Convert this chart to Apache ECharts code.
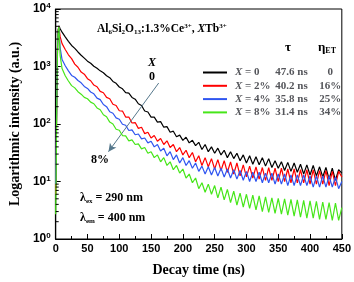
<!DOCTYPE html>
<html><head><meta charset="utf-8">
<script src="https://cdn.jsdelivr.net/npm/echarts@6/dist/echarts.min.js"></script>
<style>html,body{margin:0;padding:0;background:#fff}#c{width:354px;height:282px}</style>
</head><body><div id="c"></div>
<script>
var times = [0,1,2,3,4,5,7,10,15,20,25,30,35,40,45,50,55,60,65,70,75,80,85,90,95,100,105,110,115,120,125,130,135,140,145,150,155,160,165,170,175,180,185,190,195,200,205,210,215,220,225,230,235,240,245,250,255,260,265,270,275,280,285,290,295,300,305,310,315,320,325,330,335,340,345,350,355,360,365,370,375,380,385,390,395,400,405,410,415,420,425,430,435,440,445,450];
var x0 = [8,60,700,2600,4400,5100,4550,3950,3280,2740,2320,2070,1790,1570,1400,1240,1140,1010,930,840,780,690,640,550,510,440,410,350,345,290,270,225,210,168,162,132,132,108,110,88,90,72,75,60,64,52,59,47,52,42,48,36,44,33,40,31,38,29,35,26,33,25,31,23,29,21,28,20,27,19.5,26,18.5,25,17.5,23,17,22,15.5,21.5,15,21,14.5,20,13.5,19.5,13,19,12.5,18,12,17.5,11,17,10.5,16,14];
var x2 = [6,50,600,2400,4300,4900,3300,2500,1980,1600,1370,1100,970,800,735,615,565,475,445,370,350,290,275,220,210,170,168,132,132,104,106,84,88,68,72,57,63,50,56,44,51,39,44,33,39,29,35,26,32,22,28,19,26,18,25,16.5,24,15.5,23,14.5,22,13.5,21,12.5,19.5,12,18.5,11.5,18,11,17.5,10.5,17.5,10.5,17,10,17,10,16.5,9.5,16.5,9.5,16,9.5,16,9,16,9,15.5,9,15.5,8.5,15,8.5,15,12];
var x4 = [9,70,650,2400,4200,4800,2100,1320,1030,840,700,650,570,520,450,415,360,335,282,265,218,200,163,154,128,121,99,95,77,79,65,67,55,57,47,50,40,44,34,38,28,33,24,29,21,26,19,23,17,21,15,18.5,13.5,18,13,17.5,12.5,17,12,16.5,11.5,16,11,15.5,10.5,15,10,14.5,10,14.5,9.5,14,9.5,14,9,13.5,9,13.5,8.5,13,8.5,13,8.5,13,8.5,12.5,8,12.5,8,12.5,8,12.5,8,12,7.5,10];
var x8 = [2.7,30,500,2300,4200,4900,1550,920,690,560,465,425,365,330,290,275,240,225,190,177,145,134,108,100,81,78,63,62,51,53,44,45,37,39,31,33,26,29,22,26,19,22,16,19,14,16.5,11.5,13.5,9.5,11.5,7.5,9.5,6.5,9,6,8.5,5.2,8,4.8,7.3,4.3,6.8,3.9,6.3,3.6,6,3.4,5.8,3.2,5.6,3,5.4,2.9,5.2,2.8,5.1,2.7,5,2.6,4.9,2.5,4.8,2.4,4.7,2.3,4.6,2.3,4.5,2.2,4.4,2.2,4.3,2.1,4.2,2.1,3.5];
var seriesNames = ['X = 0','X = 2%','X = 4%','X = 8%'];
var tauLabels = ['47.6 ns','40.2 ns','35.8 ns','31.4 ns'];
var etaLabels = ['0','16%','25%','34%'];
var colors = ['#000000','#ff0000','#2f55f0','#46e619'];
var xTicks = [0,50,100,150,200,250,300,350,400,450];
var arrowFrom = [162, 516], arrowTo = [83, 33];

var serif = 'Liberation Serif';
var sans = 'Liberation Sans';
var all = [x0,x2,x4,x8];
function pairs(v){ return times.map(function(t,i){return [t,v[i]];}); }
var minorVals = [];
for (var k=0;k<4;k++){ for (var m=2;m<10;m++){ minorVals.push([0, m*Math.pow(10,k)]); } }

var series = all.map(function(v,i){
  return {name: seriesNames[i], type:'line', data:pairs(v), showSymbol:false, symbol:'none',
    lineStyle:{color:colors[i], width:1.2}, itemStyle:{color:colors[i]}, animation:false, z:2+i};
});
series[3].markLine = {silent:true, symbol:['none','arrow'], symbolSize:[6,8], animation:false,
  lineStyle:{color:'#56788c', width:1, type:'solid'}, label:{show:false},
  data:[[{coord:arrowFrom},{coord:arrowTo}]]};
series.push({type:'custom', data:minorVals, animation:false, silent:true, z:10,
  renderItem:function(p, api){
    var pt = api.coord([0, api.value(1)]);
    return {type:'line', shape:{x1:pt[0], y1:pt[1], x2:pt[0]+3, y2:pt[1]}, style:{stroke:'#000', lineWidth:1}};
  }});

var legendRich = {
  x:{fontFamily:serif, fontWeight:'bold', fontStyle:'italic', fontSize:11, padding:[0,0,0,3]},
  a:{fontFamily:serif, fontWeight:'bold', fontSize:11, width:33},
  t:{fontFamily:serif, fontWeight:'bold', fontSize:11, width:42},
  e:{fontFamily:serif, fontWeight:'bold', fontSize:11, width:26, align:'center'}
};

var option = {
  backgroundColor:'#fff',
  animation:false,
  grid:{left:50, right:11, top:9, bottom:43, show:true, borderColor:'#000', borderWidth:1},
  legend:{left:198, top:61, orient:'vertical', icon:'rect', itemWidth:24, itemHeight:2, itemGap:0.3,
    data:seriesNames,
    formatter:function(n){ var i = seriesNames.indexOf(n);
      return '{x|X}{a|' + n.slice(1) + '}{t|' + tauLabels[i] + '}{e|' + etaLabels[i] + '}'; },
    textStyle:{lineHeight:13, rich:legendRich}},
  xAxis:{type:'value', min:0, max:450, interval:50,
    name:'Decay time (ns)', nameLocation:'middle', nameGap:24,
    nameTextStyle:{fontFamily:serif, fontWeight:'bold', fontSize:14, color:'#000'},
    axisLine:{lineStyle:{color:'#000', width:1.2}},
    axisTick:{inside:true, length:5, lineStyle:{color:'#000'}},
    minorTick:{show:true, splitNumber:2, length:3, lineStyle:{color:'#000'}},
    splitLine:{show:false},
    axisLabel:{margin:4, fontFamily:sans, fontWeight:'bold', fontSize:11, color:'#000'}},
  yAxis:{type:'log', logBase:10, min:1, max:10000,
    name:'Logarithmic intensity (a.u.)', nameLocation:'middle', nameGap:33,
    nameTextStyle:{fontFamily:serif, fontWeight:'bold', fontSize:14, color:'#000'},
    axisLine:{show:true, lineStyle:{color:'#000', width:1.2}},
    axisTick:{inside:true, length:5, lineStyle:{color:'#000'}},
    splitLine:{show:false},
    axisLabel:{margin:5, color:'#000',
      formatter:function(v){ return '{b|10}{s|' + Math.round(Math.log10(v)) + '}'; },
      rich:{b:{fontFamily:sans, fontWeight:'bold', fontSize:12},
            s:{fontFamily:sans, fontWeight:'bold', fontSize:8, verticalAlign:'top', padding:[0,0,6,0]}}}},
  graphic:[
    {type:'text', left:97, top:23, z:20, style:{
      text:'{n|Al}{sb|6}{n|Si}{sb|2}{n|O}{sb|13}{n|:1.3%Ce}{sp|3+}{n|, }{i|X}{n|Tb}{sp|3+}',
      rich:{n:{fontFamily:serif, fontWeight:'bold', fontSize:11.5, fill:'#000'},
            i:{fontFamily:serif, fontWeight:'bold', fontStyle:'italic', fontSize:11.5, fill:'#000'},
            sb:{fontFamily:serif, fontWeight:'bold', fontSize:7, fill:'#000', padding:[6,0,0,0]},
            sp:{fontFamily:serif, fontWeight:'bold', fontSize:7, fill:'#000', padding:[0,0,5,0]}}}},
    {type:'text', x:288, y:48, z:20, style:{text:'τ', fontFamily:serif, fontWeight:'bold', fontSize:13, fill:'#000', align:'center', verticalAlign:'middle'}},
    {type:'text', x:327, y:48, z:20, style:{text:'{n|η}{sb|ET}', align:'center', verticalAlign:'middle',
      rich:{n:{fontFamily:serif, fontWeight:'bold', fontSize:13, fill:'#000'},
            sb:{fontFamily:serif, fontWeight:'bold', fontSize:8, fill:'#000', padding:[6,0,0,0]}}}},
    {type:'text', x:152, y:63, z:20, style:{text:'X', fontFamily:serif, fontWeight:'bold', fontStyle:'italic', fontSize:12, fill:'#000', align:'center', verticalAlign:'middle'}},
    {type:'text', x:152, y:77, z:20, style:{text:'0', fontFamily:serif, fontWeight:'bold', fontSize:12, fill:'#000', align:'center', verticalAlign:'middle'}},
    {type:'text', x:100, y:160, z:20, style:{text:'8%', fontFamily:serif, fontWeight:'bold', fontSize:12, fill:'#000', align:'center', verticalAlign:'middle'}},
    {type:'text', left:80, top:192, z:20, style:{text:'{n|λ}{sb|ex}{n| = 290 nm}',
      rich:{n:{fontFamily:serif, fontWeight:'bold', fontSize:12, fill:'#000'},
            sb:{fontFamily:serif, fontWeight:'bold', fontSize:7, fill:'#000', padding:[6,0,0,0]}}}},
    {type:'text', left:80, top:212, z:20, style:{text:'{n|λ}{sb|em}{n| = 400 nm}',
      rich:{n:{fontFamily:serif, fontWeight:'bold', fontSize:12, fill:'#000'},
            sb:{fontFamily:serif, fontWeight:'bold', fontSize:7, fill:'#000', padding:[6,0,0,0]}}}}
  ],
  series:series
};
var chart = echarts.init(document.getElementById('c'), null, {renderer:'canvas'});
chart.setOption(option);
</script></body></html>
